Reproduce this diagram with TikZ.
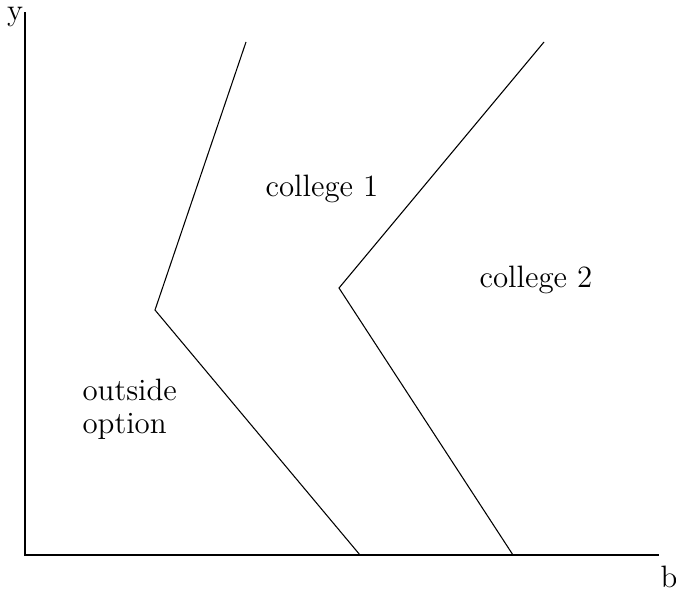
\documentclass[tikz,border=0pt]{standalone}
\begin{document}
\begin{tikzpicture}[x=0.375pt,y=-0.375pt,
  lbl/.style={inner sep=0pt,align=left,font=\fontsize{11.6}{12.2}\selectfont},
  ln/.style={line width=0.4pt,black}]
\useasboundingbox (0,0) rectangle (676,589);
\coordinate (O) at (25,555);
\coordinate (Ytop) at (25,12);
\coordinate (Xend) at (659,555);
\coordinate (a1) at (246,42);
\coordinate (a2) at (155,310);
\coordinate (a3) at (360,555);
\coordinate (b1) at (544,42);
\coordinate (b2) at (339,288);
\coordinate (b3) at (513,555);
\draw[ln] (Ytop) -- (O) -- (Xend);
\draw[ln] (a1) -- (a2) -- (a3);
\draw[ln] (b1) -- (b2) -- (b3);
\node[lbl] (ylab) at (15,17) {y};
\node[lbl] (blab) at (669,577) {b};
\node[lbl] (c1) at (322,189) {college 1};
\node[lbl] (c2) at (536,280) {college 2};
\node[lbl,anchor=west] (out) at (82,409) {outside\\option};
\end{tikzpicture}
\end{document}
